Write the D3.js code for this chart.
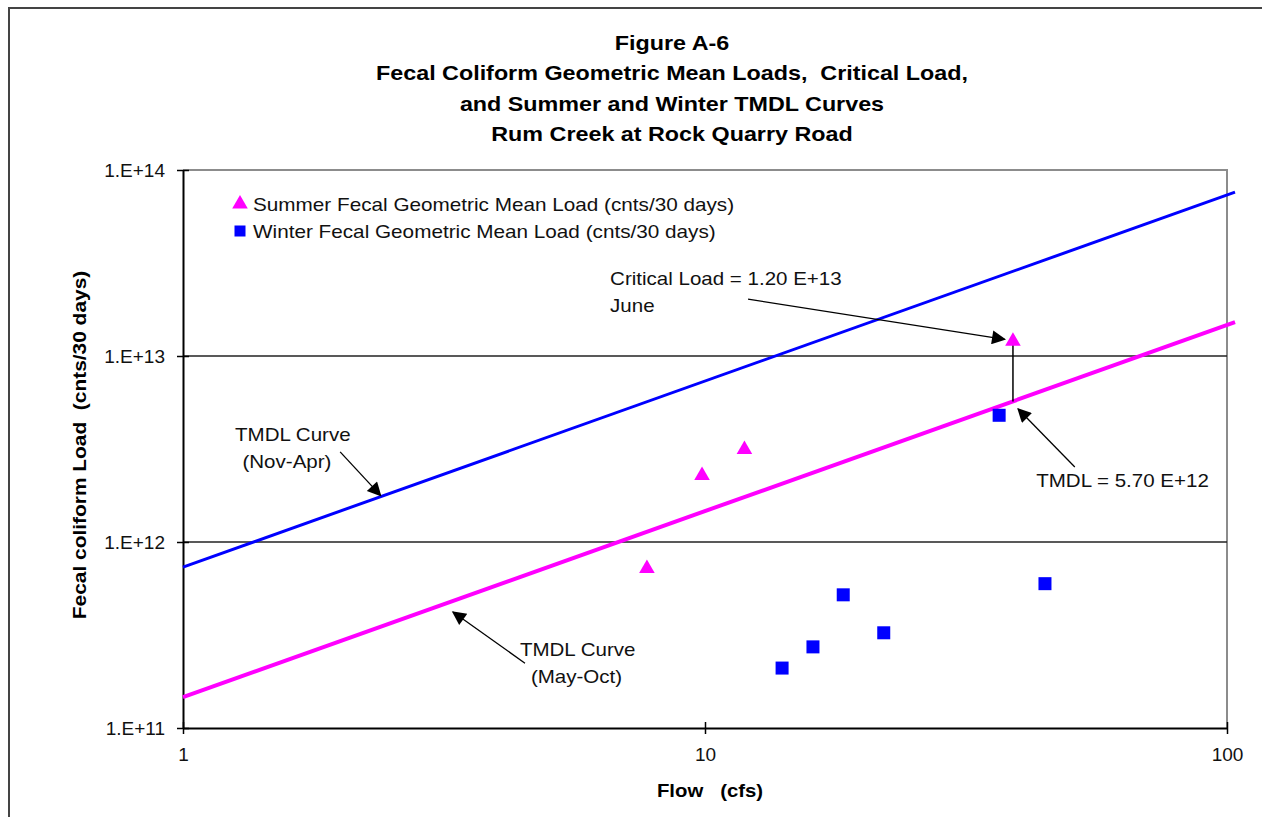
<!DOCTYPE html>
<html>
<head>
<meta charset="utf-8">
<script src="https://cdn.jsdelivr.net/npm/d3@7"></script>
<style>
  body { margin: 0; background: #fff; }
  svg { display: block; font-family: "Liberation Sans", Arial, sans-serif; }
</style>
</head>
<body>
<svg id="chart" width="1262" height="817"></svg>
<script>
// data
const summerFlow = [7.74, 9.87, 11.9, 38.9];
const summerLoad = [7.2e11, 2.28e12, 3.14e12, 1.2e13];
const winterFlow = [36.6, 14.05, 16.1, 18.4, 22.0, 44.8];
const winterLoad = [4.8e12, 2.1e11, 2.73e11, 5.2e11, 3.25e11, 5.97e11];

// TMDL curves (straight lines on log-log)
const tmdlFlow = [1, 103.6];
const summerTmdl = [1.466e11, 1.52e13];
const winterTmdl = [7.33e11, 7.6e13];

const yTicks = [1e11, 1e12, 1e13, 1e14];
const yTickLabels = ["1.E+11", "1.E+12", "1.E+13", "1.E+14"];
const xTicks = [1, 10, 100];
const xTickLabels = ["1", "10", "100"];
const gridLoads = [1e12, 1e13];

const titleLines = [
  "Figure A-6",
  "Fecal Coliform Geometric Mean Loads,  Critical Load,",
  "and Summer and Winter TMDL Curves",
  "Rum Creek at Rock Quarry Road"
];
const legendLabels = [
  "Summer Fecal Geometric Mean Load (cnts/30 days)",
  "Winter Fecal Geometric Mean Load (cnts/30 days)"
];

// annotation texts and arrows in data coordinates [flow, load]
const noteTexts = [
  { t: "Critical Load = 1.20 E+13", at: [6.58, 2.41e13] },
  { t: "June", at: [6.58, 1.73e13] },
  { t: "TMDL Curve", at: [1.258, 3.49e12] },
  { t: "(Nov-Apr)", at: [1.30, 2.5e12] },
  { t: "TMDL Curve", at: [4.42, 2.44e11] },
  { t: "(May-Oct)", at: [4.64, 1.75e11] },
  { t: "TMDL = 5.70 E+12", at: [43.1, 1.98e12] }
];
const noteArrows = [
  { from: [12.09, 2.02e13], to: [37.5, 1.23e13] },
  { from: [2.0, 3.05e12], to: [2.39, 1.78e12] },
  { from: [4.52, 2.23e11], to: [3.29, 4.2e11] },
  { from: [51.1, 2.53e12], to: [39.8, 5.19e12] }
];
const criticalSpan = { flow: 38.9, top: 1.2e13, bottom: 5.7e12 };

const svg = d3.select("#chart");
const plotL = 183, plotR = 1227, plotT = 170, plotB = 728;

const x = d3.scaleLog().domain([1, 100]).range([plotL, plotR]);
const y = d3.scaleLog().domain([1e11, 1e14]).range([plotB, plotT]);

// the original text is a bit wider than Arial, stretch it
function stretch(sel, k) {
  sel.each(function () {
    const w = this.getComputedTextLength();
    d3.select(this).attr("textLength", w * k).attr("lengthAdjust", "spacingAndGlyphs");
  });
}

// outer frame
svg.append("rect")
  .attr("x", 9).attr("y", 8).attr("width", 1320).attr("height", 860)
  .attr("fill", "none").attr("stroke", "#444").attr("stroke-width", 2);

// title
svg.append("g").selectAll("text")
  .data(titleLines)
  .enter().append("text")
  .attr("x", 672)
  .attr("y", (d, i) => 50 + i * 30.3)
  .attr("text-anchor", "middle")
  .attr("font-weight", "bold")
  .attr("font-size", 21)
  .attr("xml:space", "preserve")
  .text(d => d)
  .call(stretch, 1.11);

// plot border (gray top/right)
svg.append("path")
  .attr("d", `M${plotL},${plotT}H${plotR}V${plotB}`)
  .attr("fill", "none").attr("stroke", "#8c8c8c").attr("stroke-width", 2);

// gridlines
svg.append("g").selectAll("line")
  .data(gridLoads)
  .enter().append("line")
  .attr("x1", plotL).attr("x2", plotR)
  .attr("y1", d => y(d)).attr("y2", d => y(d))
  .attr("stroke", "#222").attr("stroke-width", 1.5);

// axes
const yAxis = d3.axisLeft(y).tickValues(yTicks)
  .tickFormat((d, i) => yTickLabels[i]).tickSizeInner(6).tickSizeOuter(0).tickPadding(12);
const yg = svg.append("g").attr("transform", `translate(${plotL},0)`).call(yAxis);
yg.selectAll(".tick line").attr("x2", -6).attr("x1", 6).attr("stroke-width", 1.5);
yg.select(".domain").attr("stroke-width", 2);
yg.selectAll("text").attr("font-size", 19).attr("font-family", "Liberation Sans, Arial, sans-serif").attr("fill", "#111");

const xAxis = d3.axisBottom(x).tickValues(xTicks)
  .tickFormat((d, i) => xTickLabels[i]).tickSizeInner(6).tickSizeOuter(0).tickPadding(14);
const xg = svg.append("g").attr("transform", `translate(0,${plotB})`).call(xAxis);
xg.selectAll(".tick line").attr("y1", -6).attr("y2", 6).attr("stroke-width", 1.5);
xg.select(".domain").attr("stroke-width", 2);
xg.selectAll("text").attr("font-size", 19).attr("font-family", "Liberation Sans, Arial, sans-serif").attr("fill", "#111");

// axis titles
svg.append("text")
  .attr("transform", `translate(86,445) rotate(-90)`)
  .attr("text-anchor", "middle")
  .attr("font-weight", "bold").attr("font-size", 19)
  .attr("xml:space", "preserve")
  .text("Fecal coliform Load  (cnts/30 days)")
  .call(stretch, 1.1);
svg.append("text")
  .attr("x", 710).attr("y", 797)
  .attr("text-anchor", "middle")
  .attr("font-weight", "bold").attr("font-size", 19)
  .attr("xml:space", "preserve")
  .text("Flow   (cfs)")
  .call(stretch, 1.07);

// TMDL lines
const line = d3.line().x(d => x(d[0])).y(d => y(d[1]));
svg.append("path")
  .datum(tmdlFlow.map((f, i) => [f, winterTmdl[i]]))
  .attr("d", line).attr("fill", "none").attr("stroke", "#0000ff").attr("stroke-width", 3);
svg.append("path")
  .datum(tmdlFlow.map((f, i) => [f, summerTmdl[i]]))
  .attr("d", line).attr("fill", "none").attr("stroke", "#ff00ff").attr("stroke-width", 4);

// arrow marker
svg.append("defs").append("marker")
  .attr("id", "head")
  .attr("viewBox", "0 0 10 10")
  .attr("refX", 9).attr("refY", 5)
  .attr("markerWidth", 18).attr("markerHeight", 14)
  .attr("markerUnits", "userSpaceOnUse")
  .attr("orient", "auto")
  .append("path").attr("d", "M0,0L10,5L0,10z").attr("fill", "#000");

// critical load vertical
svg.append("line")
  .attr("x1", x(criticalSpan.flow)).attr("x2", x(criticalSpan.flow))
  .attr("y1", y(criticalSpan.top)).attr("y2", y(criticalSpan.bottom))
  .attr("stroke", "#000").attr("stroke-width", 1.5);

// points
const tri = d3.symbol().type(d3.symbolTriangle).size(105);
svg.append("g").selectAll("path")
  .data(summerFlow.map((f, i) => [f, summerLoad[i]]))
  .enter().append("path")
  .attr("d", tri)
  .attr("transform", d => `translate(${x(d[0])},${y(d[1])})`)
  .attr("fill", "#ff00ff");
svg.append("g").selectAll("rect")
  .data(winterFlow.map((f, i) => [f, winterLoad[i]]))
  .enter().append("rect")
  .attr("x", d => x(d[0]) - 6.5).attr("y", d => y(d[1]) - 6.5)
  .attr("width", 13).attr("height", 13)
  .attr("fill", "#0000ff");

// annotation arrows
svg.append("g").selectAll("line")
  .data(noteArrows)
  .enter().append("line")
  .attr("x1", d => x(d.from[0])).attr("y1", d => y(d.from[1]))
  .attr("x2", d => x(d.to[0])).attr("y2", d => y(d.to[1]))
  .attr("stroke", "#000").attr("stroke-width", 1.3)
  .attr("marker-end", "url(#head)");

// annotation text
svg.append("g").selectAll("text")
  .data(noteTexts)
  .enter().append("text")
  .attr("x", d => x(d.at[0])).attr("y", d => y(d.at[1]))
  .attr("font-size", 19).attr("fill", "#111")
  .text(d => d.t)
  .call(stretch, 1.08);

// legend
const legend = svg.append("g").attr("transform", "translate(240,204)");
legend.append("path").attr("d", tri).attr("fill", "#ff00ff");
legend.append("rect").attr("x", -5.5).attr("y", 21.5).attr("width", 11).attr("height", 11).attr("fill", "#0000ff");
legend.selectAll("text")
  .data(legendLabels)
  .enter().append("text")
  .attr("x", 13).attr("y", (d, i) => 7 + i * 27)
  .attr("font-size", 19).attr("fill", "#111")
  .text(d => d)
  .call(stretch, 1.09);
</script>
</body>
</html>
